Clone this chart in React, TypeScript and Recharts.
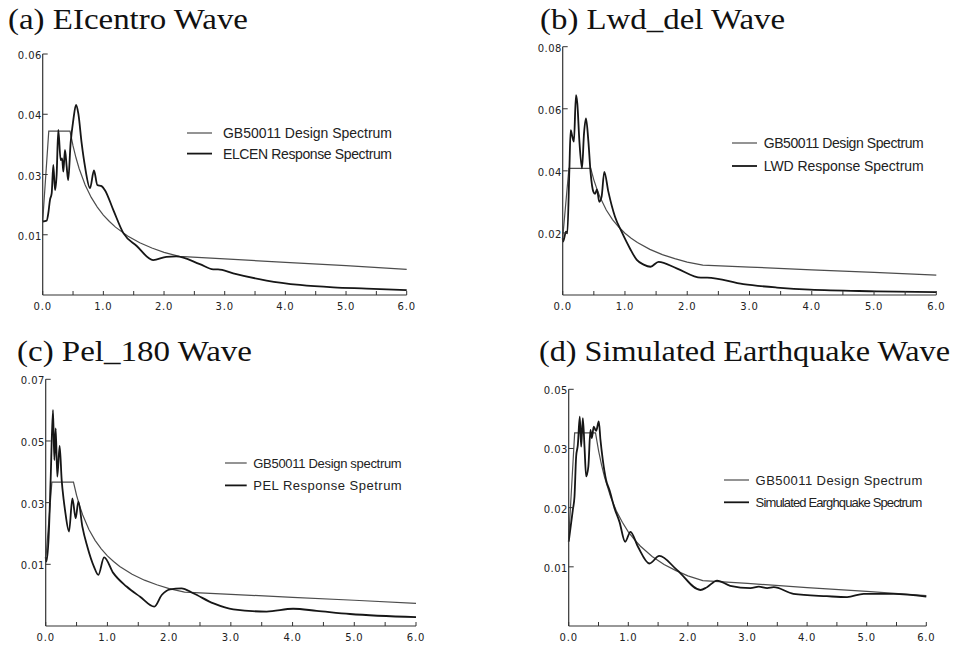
import React from "react";
import { LineChart, Line, XAxis, YAxis, Legend } from "recharts";

// ─── Data ──────────────────────────────────────────────────────────────────────

// period axis (s)
const xTicks = [0, 0.5, 1, 1.5, 2, 2.5, 3, 3.5, 4, 4.5, 5, 5.5, 6];
const xLabelTicks = [0, 1, 2, 3, 4, 5, 6];
const xLabels = ["0.0", "1.0", "2.0", "3.0", "4.0", "5.0", "6.0"];

// GB50011 design spectrum, same curve in every panel
const designT = [0, 0.1, 0.45, 0.5, 0.55, 0.6, 0.7, 0.8, 0.9, 1.0, 1.1, 1.2, 1.4, 1.6, 1.8, 2.0, 2.25, 3.0, 4.0, 5.0, 6.0];
const designSa = [0.0184, 0.0408, 0.0408, 0.0371, 0.0341, 0.0315, 0.0274, 0.0243, 0.0219, 0.0199, 0.0183, 0.0169, 0.0147, 0.013, 0.0117, 0.0106, 0.0096, 0.009, 0.0081, 0.0073, 0.0064];

// (a) El Centro
const elcenT = [0, 0.065, 0.092, 0.12, 0.148, 0.175, 0.203, 0.23, 0.257, 0.296, 0.32, 0.34, 0.367, 0.395, 0.42, 0.46, 0.505, 0.549, 0.587, 0.642, 0.697, 0.78, 0.845, 0.9, 0.971, 1.026, 1.163, 1.33, 1.55, 1.82, 2.04, 2.2, 2.59, 2.81, 2.89, 3.14, 3.69, 4.24, 4.79, 5.34, 6.0];
const elcenSa = [0.0183, 0.0185, 0.0203, 0.0237, 0.0253, 0.0324, 0.0261, 0.03, 0.0411, 0.0336, 0.034, 0.0307, 0.0361, 0.032, 0.0286, 0.0378, 0.0436, 0.0473, 0.0452, 0.0378, 0.032, 0.0266, 0.031, 0.0274, 0.0271, 0.0261, 0.0212, 0.0154, 0.0122, 0.0087, 0.0095, 0.0096, 0.0077, 0.0064, 0.0064, 0.0054, 0.0036, 0.0025, 0.0019, 0.0016, 0.0012];
const yTicksA = [0.015, 0.03, 0.045, 0.06];
const yLabelsA = ["0.01", "0.03", "0.04", "0.06"];

// (b) Lwd_del
const lwdT = [0, 0.007, 0.053, 0.074, 0.107, 0.128, 0.155, 0.18, 0.213, 0.235, 0.267, 0.31, 0.342, 0.374, 0.411, 0.449, 0.492, 0.519, 0.55, 0.588, 0.625, 0.668, 0.733, 0.84, 0.946, 1.08, 1.19, 1.3, 1.41, 1.54, 1.83, 2.22, 2.32, 2.9, 3.44, 3.97, 5.04, 6.0];
const lwdSa = [0.0183, 0.0172, 0.0204, 0.0199, 0.0403, 0.0531, 0.051, 0.0494, 0.0644, 0.0617, 0.0499, 0.0408, 0.052, 0.0569, 0.0499, 0.0392, 0.0333, 0.0326, 0.034, 0.03, 0.0317, 0.0397, 0.0333, 0.0252, 0.0204, 0.015, 0.0113, 0.0098, 0.0091, 0.0107, 0.0086, 0.0056, 0.0056, 0.0035, 0.0024, 0.0017, 0.0012, 0.0009];
const yTicksB = [0.02, 0.04, 0.06, 0.08];
const yLabelsB = ["0.02", "0.04", "0.06", "0.08"];

// (c) Pel_180
const pelT = [0, 0.01, 0.048, 0.08, 0.118, 0.14, 0.162, 0.188, 0.226, 0.259, 0.29, 0.313, 0.378, 0.432, 0.486, 0.529, 0.594, 0.675, 0.783, 0.853, 0.946, 1.097, 1.31, 1.53, 1.76, 1.88, 2.015, 2.2, 2.39, 2.72, 3.04, 3.58, 4.01, 4.39, 4.93, 6.0];
const pelSa = [0.0195, 0.0183, 0.0253, 0.0414, 0.0613, 0.0471, 0.0561, 0.0424, 0.0511, 0.0414, 0.036, 0.0329, 0.0268, 0.0362, 0.0306, 0.0353, 0.0282, 0.0225, 0.0168, 0.0145, 0.0195, 0.015, 0.0112, 0.0083, 0.0055, 0.0088, 0.0104, 0.0107, 0.0093, 0.0064, 0.0047, 0.0041, 0.0049, 0.0043, 0.0034, 0.0025];
const yTicksC = [0.0175, 0.035, 0.0525, 0.07];
const yLabelsC = ["0.01", "0.03", "0.05", "0.07"];

// (d) simulated wave
const simT = [0, 0.069, 0.097, 0.125, 0.153, 0.186, 0.209, 0.237, 0.265, 0.293, 0.33, 0.365, 0.388, 0.42, 0.46, 0.505, 0.533, 0.572, 0.628, 0.684, 0.768, 0.852, 0.947, 1.036, 1.16, 1.355, 1.52, 1.82, 2.21, 2.32, 2.49, 2.71, 3.05, 3.19, 3.33, 3.44, 3.77, 4.33, 4.67, 4.95, 5.45, 6.0];
const simSa = [0.0178, 0.0245, 0.0273, 0.0358, 0.0382, 0.0442, 0.0379, 0.0439, 0.0379, 0.0316, 0.0337, 0.0414, 0.0397, 0.0421, 0.0412, 0.0432, 0.0393, 0.0351, 0.0308, 0.0287, 0.0249, 0.022, 0.0178, 0.0199, 0.0168, 0.0132, 0.0148, 0.0118, 0.0076, 0.0082, 0.0096, 0.0085, 0.008, 0.0083, 0.008, 0.0082, 0.0068, 0.0063, 0.0061, 0.0068, 0.0068, 0.0062];
const yTicksD = [0.0125, 0.025, 0.0375, 0.05];
const yLabelsD = ["0.01", "0.02", "0.03", "0.05"];

const titles = ["(a) EIcentro Wave", "(b) Lwd_del Wave", "(c) Pel_180 Wave", "(d) Simulated Earthquake Wave"];
const namesA = ["GB50011 Design Spectrum", "ELCEN Response Spectrum"];
const namesB = ["GB50011 Design Spectrum", "LWD Response Spectrum"];
const namesC = ["GB50011 Design spectrum", "PEL Response Spetrum"];
const namesD = ["GB50011 Design Spectrum", "Simulated Earghquake Spectrum"];

// ─── Helpers ───────────────────────────────────────────────────────────────────

const toPoints = (t: number[], sa: number[]) => t.map((x, i) => ({ t: x, sa: sa[i] }));
const design = toPoints(designT, designSa);

const AXIS = "#333";
const DESIGN_COLOR = "#4d4d4d";
const RESPONSE_COLOR = "#161616";
const TICK_FONT = "'DejaVu Sans', sans-serif";
const LEGEND_FONT = "'Liberation Sans', Arial, sans-serif";
const SERIF = "'Liberation Serif', 'Times New Roman', serif";

// page-pixel layout of each panel: chart box, plot area, legend rows (+font size), title
const layouts = [
  { box: [0, 40, 440, 280], plot: [42.7, 406.7, 54, 295], leg: [187, 212, 223, 392, 132.7, 153.3, 14], title: [8, 29, 240] },
  { box: [477, 30, 477, 290], plot: [562.7, 936.3, 46.7, 295], leg: [732, 757, 763.7, 923.7, 142.7, 165.7, 14], title: [540, 29, 245] },
  { box: [0, 365, 440, 283], plot: [45.7, 416, 379.3, 626], leg: [225, 246.7, 253.3, 401.7, 463.3, 485.7, 13], title: [17, 361, 235] },
  { box: [477, 370, 477, 278], plot: [568.7, 926.3, 389.3, 626], leg: [723.7, 748.7, 755.3, 922, 480, 502.3, 13], title: [539, 361, 411] },
];

// ─── Ticks ─────────────────────────────────────────────────────────────────────

function XTick({ x, payload, axisY }: any) {
  const i = xLabelTicks.indexOf(payload.value);
  return (
    <g>
      <line x1={x} x2={x} y1={axisY} y2={axisY - 4} stroke={AXIS} strokeWidth={1} />
      {i >= 0 && (
        <text x={x} y={axisY + 15} textAnchor="middle" fontSize={10} letterSpacing={0.8} fontFamily={TICK_FONT} fill="#222">
          {xLabels[i]}
        </text>
      )}
    </g>
  );
}

function YTick({ y, payload, axisX, ticks, labels }: any) {
  const i = ticks.indexOf(payload.value);
  return (
    <g>
      <line x1={axisX} x2={axisX + 5} y1={y} y2={y} stroke={AXIS} strokeWidth={1} />
      <text x={axisX - 1} y={y + 5} textAnchor="end" fontSize={10} letterSpacing={0.4} fontFamily={TICK_FONT} fill="#222">
        {labels[i]}
      </text>
    </g>
  );
}

// ─── Panel ─────────────────────────────────────────────────────────────────────

function Panel({ layout, names, response, yTicks, yLabels }: any) {
  const [left, top, width, height] = layout.box;
  const [x0, x1, y0, y1] = layout.plot;
  const [lx0, lx1, tx, tEnd, r1, r2, legendSize] = layout.leg;
  const axisX = x0 - left;
  const axisY = y1 - top;
  const margin = { top: y0 - top, left: 0, right: left + width - x1, bottom: top + height - y1 - 20 };
  // legend box runs to the chart's right edge so the text never clips
  const legendW = Math.floor(left + width - lx0);

  // legend keeps the series order (design first), not the alphabetical default
  const legendContent = () => {
    const rows = [10, 10 + (r2 - r1)];
    const colors = [DESIGN_COLOR, RESPONSE_COLOR];
    return (
      <svg width={legendW} height={46} style={{ display: "block" }}>
        {names.map((name: string, i: number) => (
          <g key={name}>
            <line x1={0} x2={lx1 - lx0} y1={rows[i]} y2={rows[i]} stroke={colors[i]} strokeWidth={i === 0 ? 1.2 : 1.8} />
            <text
              x={tx - lx0}
              y={rows[i] + 5}
              fontSize={legendSize}
              fontFamily={LEGEND_FONT}
              fill="#222"
              textLength={tEnd - tx}
              lengthAdjust="spacing"
            >
              {name}
            </text>
          </g>
        ))}
      </svg>
    );
  };

  return (
    <div style={{ position: "absolute", left, top }}>
      <LineChart width={width} height={height} margin={margin}>
        <XAxis
          type="number"
          dataKey="t"
          domain={[0, 6]}
          ticks={xTicks}
          interval={0}
          height={20}
          axisLine={{ stroke: AXIS, strokeWidth: 1.2 }}
          tickLine={false}
          tick={(p: any) => <XTick {...p} axisY={axisY} />}
        />
        <YAxis
          type="number"
          domain={[0, yTicks[yTicks.length - 1]]}
          ticks={yTicks}
          interval={0}
          width={axisX}
          axisLine={{ stroke: AXIS, strokeWidth: 1.2 }}
          tickLine={false}
          tick={(p: any) => <YTick {...p} axisX={axisX} ticks={yTicks} labels={yLabels} />}
        />
        <Legend
          layout="horizontal"
          verticalAlign="middle"
          align="center"
          wrapperStyle={{ left: lx0 - left, top: r1 - 10 - top, width: legendW, height: 46 }}
          content={legendContent}
        />
        <Line
          data={design}
          dataKey="sa"
          name={names[0]}
          type="linear"
          stroke={DESIGN_COLOR}
          strokeWidth={1.2}
          dot={false}
          isAnimationActive={false}
        />
        <Line
          data={response}
          dataKey="sa"
          name={names[1]}
          type="monotone"
          stroke={RESPONSE_COLOR}
          strokeWidth={1.8}
          dot={false}
          isAnimationActive={false}
        />
      </LineChart>
    </div>
  );
}

// ─── App ───────────────────────────────────────────────────────────────────────

export default function App() {
  return (
    <div style={{ position: "absolute", left: 0, top: 0, width: 954, height: 648, background: "#fff", overflow: "hidden" }}>
      <svg width={954} height={648} style={{ position: "absolute", left: 0, top: 0 }}>
        {layouts.map((l, i) => (
          <text
            key={titles[i]}
            x={l.title[0]}
            y={l.title[1]}
            fontSize={30}
            fontFamily={SERIF}
            fill="#111"
            textLength={l.title[2]}
            lengthAdjust="spacingAndGlyphs"
          >
            {titles[i]}
          </text>
        ))}
      </svg>
      <Panel layout={layouts[0]} names={namesA} response={toPoints(elcenT, elcenSa)} yTicks={yTicksA} yLabels={yLabelsA} />
      <Panel layout={layouts[1]} names={namesB} response={toPoints(lwdT, lwdSa)} yTicks={yTicksB} yLabels={yLabelsB} />
      <Panel layout={layouts[2]} names={namesC} response={toPoints(pelT, pelSa)} yTicks={yTicksC} yLabels={yLabelsC} />
      <Panel layout={layouts[3]} names={namesD} response={toPoints(simT, simSa)} yTicks={yTicksD} yLabels={yLabelsD} />
    </div>
  );
}
